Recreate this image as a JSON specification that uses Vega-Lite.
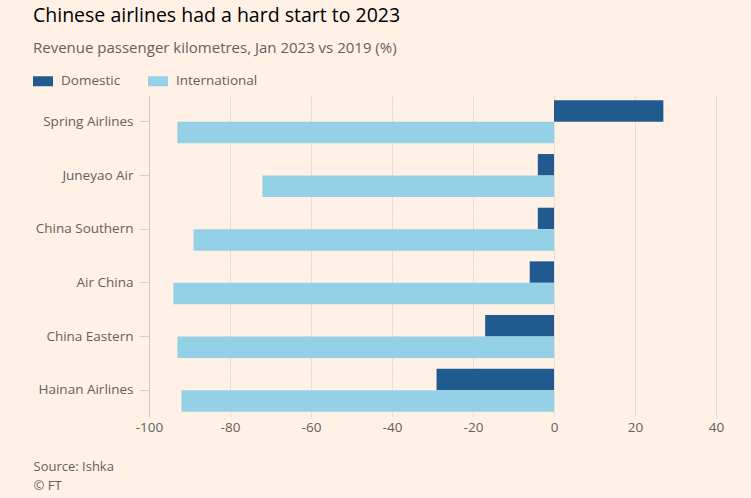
{
  "$schema": "https://vega.github.io/schema/vega-lite/v6.json",
  "autosize": "none",
  "width": 567,
  "height": 322,
  "padding": {"left": 149, "top": 95, "right": 35, "bottom": 81},
  "background": "#FFF1E5",
  "title": {
    "text": "Chinese airlines had a hard start to 2023",
    "subtitle": "Revenue passenger kilometres, Jan 2023 vs 2019 (%)",
    "anchor": "start",
    "frame": "group",
    "dx": -116,
    "font": "Open Sans",
    "fontSize": 19.5,
    "fontWeight": "normal",
    "color": "#000000",
    "subtitleFont": "Open Sans",
    "subtitleFontSize": 15,
    "subtitleColor": "#66605C",
    "subtitlePadding": 15,
    "offset": 14
  },
  "data": {
    "values": [
      {"airline": "Spring Airlines", "type": "Domestic", "value": 27},
      {"airline": "Spring Airlines", "type": "International", "value": -93},
      {"airline": "Juneyao Air", "type": "Domestic", "value": -4},
      {"airline": "Juneyao Air", "type": "International", "value": -72},
      {"airline": "China Southern", "type": "Domestic", "value": -4},
      {"airline": "China Southern", "type": "International", "value": -89},
      {"airline": "Air China", "type": "Domestic", "value": -6},
      {"airline": "Air China", "type": "International", "value": -94},
      {"airline": "China Eastern", "type": "Domestic", "value": -17},
      {"airline": "China Eastern", "type": "International", "value": -93},
      {"airline": "Hainan Airlines", "type": "Domestic", "value": -29},
      {"airline": "Hainan Airlines", "type": "International", "value": -92}
    ]
  },
  "mark": {"type": "bar"},
  "encoding": {
    "y": {
      "field": "airline",
      "type": "nominal",
      "sort": ["Spring Airlines", "Juneyao Air", "China Southern", "Air China", "China Eastern", "Hainan Airlines"],
      "scale": {"paddingInner": 0.2, "paddingOuter": 0.1},
      "axis": {
        "title": null,
        "domain": true,
        "domainColor": "#D2C8BF",
        "ticks": true,
        "tickColor": "#D9CEC4",
        "tickSize": 10,
        "labelPadding": 6,
        "labelFont": "Open Sans",
        "labelFontSize": 13.5,
        "labelColor": "#66605C",
        "grid": false
      }
    },
    "yOffset": {
      "field": "type",
      "type": "nominal",
      "sort": ["Domestic", "International"],
      "scale": {"paddingInner": 0, "paddingOuter": 0}
    },
    "x": {
      "field": "value",
      "type": "quantitative",
      "scale": {"domain": [-100, 40], "nice": false},
      "axis": {
        "values": [-100, -80, -60, -40, -20, 0, 20, 40],
        "labelExpr": "replace(datum.label, '−', '-')",
        "labelFlush": false,
        "domain": false,
        "ticks": false,
        "grid": true,
        "gridColor": "#E9DED4",
        "labelFont": "Open Sans",
        "labelFontSize": 13.5,
        "labelColor": "#66605C",
        "labelPadding": 3,
        "title": ["Source: Ishka", "© FT"],
        "titleFont": "Open Sans",
        "titleFontSize": 13,
        "titleFontWeight": "normal",
        "titleColor": "#66605C",
        "titleAnchor": "start",
        "titleAlign": "left",
        "titleBaseline": "top",
        "titleX": -116,
        "titleY": 43,
        "titleLineHeight": 19
      }
    },
    "color": {
      "field": "type",
      "type": "nominal",
      "scale": {"domain": ["Domestic", "International"], "range": ["#215A8F", "#94D1E6"]},
      "legend": {
        "title": null,
        "orient": "none",
        "legendX": -116,
        "legendY": -24,
        "direction": "horizontal",
        "symbolType": "M-1,-0.5H1V0.5H-1Z",
        "symbolSize": 400,
        "symbolStrokeWidth": 0,
        "labelFont": "Open Sans",
        "labelFontSize": 13.5,
        "labelColor": "#66605C",
        "labelOffset": 8,
        "columnPadding": 27
      }
    }
  },
  "config": {"view": {"stroke": null}}
}
